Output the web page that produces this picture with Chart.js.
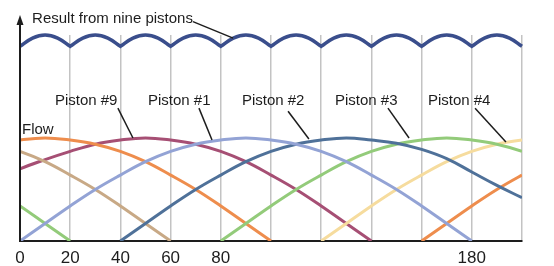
<!DOCTYPE html>
<html>
<head>
<meta charset="utf-8">
<script src="https://cdn.jsdelivr.net/npm/chart.js@4"></script>
<style>
    html, body { margin: 0; padding: 0; background: #fff; }
    canvas { display: block; }
</style>
</head>
<body>
<canvas id="chart" width="554" height="266"></canvas>
<script>
// crank angle (degrees) shared by every piston curve
const angles = [-10, 0, 10, 20, 30, 40, 50, 60, 70, 80, 90, 100, 110, 120, 130, 140, 150, 160, 170, 180, 190, 200, 210];

// flow per piston (null = piston not delivering)
const piston1 = [null, 0, .17, .34, .5, .64, .77, .87, .94, .98, 1, .98, .94, .87, .77, .64, .5, .34, .17, 0, null, null, null];
const piston2 = [null, null, null, null, null, 0, .17, .34, .5, .64, .77, .87, .94, .98, 1, .98, .95, .89, .8, .67, .54, .42, .3];
const piston3 = [null, null, null, null, null, null, null, null, null, 0, .17, .34, .5, .64, .77, .87, .94, .98, 1, .98, .94, .87, .77];
const piston4 = [null, null, null, null, null, null, null, null, null, null, null, null, null, 0, .17, .34, .5, .64, .77, .87, .94, .98, 1];
const piston5 = [null, null, null, null, null, null, null, null, null, null, null, null, null, null, null, null, null, 0, .17, .34, .5, .64, .77];
const piston6 = [.5, .34, .17, 0, null, null, null, null, null, null, null, null, null, null, null, null, null, null, null, null, null, null, null];
const piston7 = [.94, .87, .77, .64, .5, .34, .17, 0, null, null, null, null, null, null, null, null, null, null, null, null, null, null, null];
const piston8 = [.94, .98, 1, .98, .94, .87, .77, .64, .5, .34, .17, 0, null, null, null, null, null, null, null, null, null, null, null];
const piston9 = [.58, .7, .79, .87, .94, .98, 1, .98, .94, .87, .77, .64, .5, .34, .17, 0, null, null, null, null, null, null, null];

// summed output: scallops, cusp points listed twice so the corners stay sharp
const resultAngles = [
    0, 5, 10, 15, 20,
    20, 25, 30, 35, 40,
    40, 45, 50, 55, 60,
    60, 65, 70, 75, 80,
    80, 85, 90, 95, 100,
    100, 105, 110, 115, 120,
    120, 125, 130, 135, 140,
    140, 145, 150, 155, 160,
    160, 165, 170, 175, 180,
    180, 185, 190, 195, 200
];
const resultFlow = [
    1.89, 1.97, 2, 1.97, 1.89,
    1.89, 1.97, 2, 1.97, 1.89,
    1.89, 1.97, 2, 1.97, 1.89,
    1.89, 1.97, 2, 1.97, 1.89,
    1.89, 1.97, 2, 1.97, 1.89,
    1.89, 1.97, 2, 1.97, 1.89,
    1.89, 1.97, 2, 1.97, 1.89,
    1.89, 1.97, 2, 1.97, 1.89,
    1.89, 1.97, 2, 1.97, 1.89,
    1.89, 1.97, 2, 1.97, 1.89
];

// x axis
const xTicks = [0, 20, 40, 60, 80, 100, 120, 140, 160, 180, 200];
const xTickLabels = ['0', '20', '40', '60', '80', '', '', '', '', '180', ''];

const fontFamily = '"Liberation Sans", Arial, sans-serif';
const inkColor = '#1d1d1d';

function toPoints(xs, ys) {
    return xs.map((x, i) => ({ x: x, y: ys[i] }));
}

function pistonDataset(values, color) {
    return {
        data: toPoints(angles, values),
        borderColor: color,
        borderWidth: 3,
        tension: 0.4,
        pointRadius: 0,
        spanGaps: false
    };
}

// Labels with leader lines, in chart units (degrees / flow).
const annotations = [
    { text: 'Result from nine pistons', x: 4.8, y: 2.12, from: [68.9, 2.13], to: [84.9, 1.97] },
    { text: 'Flow', x: 0.8, y: 1.04 },
    { text: 'Piston #9', x: 13.9, y: 1.32, from: [39, 1.29], to: [45, 1.0] },
    { text: 'Piston #1', x: 51, y: 1.32, from: [71.3, 1.29], to: [76.5, 0.98] },
    { text: 'Piston #2', x: 88.4, y: 1.32, from: [106.8, 1.26], to: [115.1, 0.99] },
    { text: 'Piston #3', x: 125.5, y: 1.32, from: [146.6, 1.29], to: [155, 1.0] },
    { text: 'Piston #4', x: 162.5, y: 1.32, from: [181.3, 1.29], to: [193.6, 0.96] }
];

const annotationPlugin = {
    id: 'annotationPlugin',
    afterDraw(chart) {
        const ctx = chart.ctx;
        const xs = chart.scales.x;
        const ys = chart.scales.y;
        const area = chart.chartArea;

        // y axis with arrow head
        ctx.save();
        ctx.strokeStyle = inkColor;
        ctx.fillStyle = inkColor;
        ctx.lineWidth = 2;
        ctx.beginPath();
        ctx.moveTo(area.left, area.bottom);
        ctx.lineTo(area.left, 22);
        ctx.stroke();
        ctx.beginPath();
        ctx.moveTo(area.left, 15);
        ctx.lineTo(area.left - 3.5, 25);
        ctx.lineTo(area.left + 3.5, 25);
        ctx.closePath();
        ctx.fill();

        ctx.font = '15px ' + fontFamily;
        ctx.textBaseline = 'alphabetic';
        ctx.textAlign = 'left';
        ctx.lineWidth = 1.5;
        annotations.forEach(a => {
            ctx.fillText(a.text, xs.getPixelForValue(a.x), ys.getPixelForValue(a.y));
            if (a.from) {
                ctx.beginPath();
                ctx.moveTo(xs.getPixelForValue(a.from[0]), ys.getPixelForValue(a.from[1]));
                ctx.lineTo(xs.getPixelForValue(a.to[0]), ys.getPixelForValue(a.to[1]));
                ctx.stroke();
            }
        });
        ctx.restore();
    }
};

new Chart(document.getElementById('chart').getContext('2d'), {
    type: 'line',
    data: {
        datasets: [
            {
                data: toPoints(resultAngles, resultFlow),
                borderColor: '#3a4e8c',
                borderWidth: 3.5,
                tension: 0.4,
                pointRadius: 0,
                clip: false
            },
            pistonDataset(piston1, '#93a3d5'),
            pistonDataset(piston2, '#4f7199'),
            pistonDataset(piston3, '#93cb7a'),
            pistonDataset(piston4, '#f6dc9e'),
            pistonDataset(piston5, '#ee8d4d'),
            pistonDataset(piston6, '#93cb7a'),
            pistonDataset(piston7, '#c8a986'),
            pistonDataset(piston8, '#ee8d4d'),
            pistonDataset(piston9, '#a64f74')
        ]
    },
    options: {
        responsive: false,
        animation: false,
        devicePixelRatio: 1,
        layout: {
            padding: { left: 20, right: 32, top: 35, bottom: 0 }
        },
        plugins: {
            legend: { display: false },
            tooltip: { enabled: false }
        },
        scales: {
            x: {
                type: 'linear',
                min: 0,
                max: 200,
                afterBuildTicks: (scale) => {
                    scale.ticks = xTicks.map(v => ({ value: v }));
                },
                afterFit: (scale) => {
                    scale.height = 25;
                },
                ticks: {
                    autoSkip: false,
                    maxRotation: 0,
                    padding: 7,
                    color: inkColor,
                    font: { family: fontFamily, size: 17 },
                    callback: (value) => xTickLabels[xTicks.indexOf(value)]
                },
                grid: {
                    drawTicks: false,
                    lineWidth: 1.5,
                    color: (c) => (c.tick && c.tick.value === 0) ? 'rgba(0,0,0,0)' : '#c3c3c3'
                },
                border: { display: true, color: inkColor, width: 2 }
            },
            y: {
                display: false,
                min: 0,
                max: 2
            }
        }
    },
    plugins: [annotationPlugin]
});
</script>
</body>
</html>
